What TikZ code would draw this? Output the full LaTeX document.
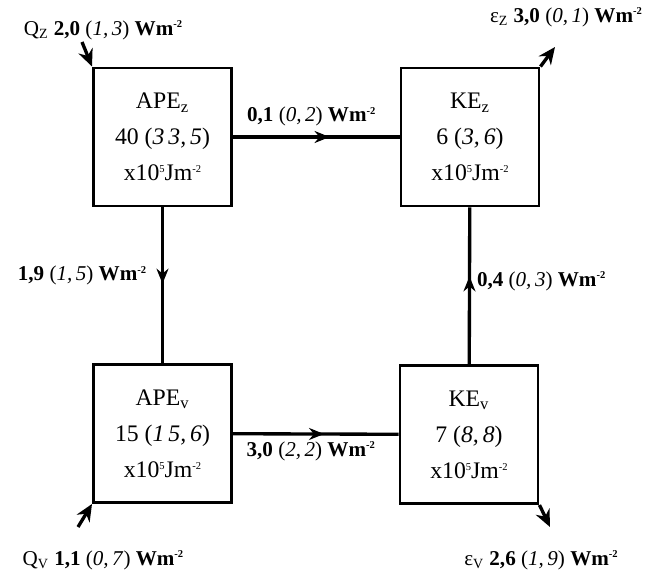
\documentclass[tikz,border=0pt]{standalone}
\usepackage{fontspec}
\setmainfont{Liberation Serif}
\usetikzlibrary{arrows.meta,decorations.markings}

\newcommand{\hisup}[1]{\raisebox{0.75ex}{\fontsize{6}{6}\selectfont #1}}
\newcommand{\wm}{Wm\hisup{-2}}
\newcommand{\flux}[2]{\textbf{#1} (\textit{#2}) \textbf{\wm}}
\newcommand{\jm}{x10\hisup{5}Jm\hisup{-2}}

\begin{document}
\begin{tikzpicture}[
box/.style={draw, line width=1.7pt, minimum size=2.76cm, inner sep=0pt, align=center, font=\fontsize{13.5}{20.5}\selectfont},
flow/.style={line width=1.9pt, postaction={decorate, decoration={markings, mark=at position #1 with {\arrow{Stealth[length=0.3cm,width=0.24cm]}}}}},
corner/.style={-{Stealth[length=0.34cm,width=0.3cm]}, line width=1.9pt},
lbl/.style={font=\fontsize{12}{14}\selectfont}
]
\useasboundingbox (0,0) rectangle (13.04,11.42);

\draw

(3.25, 8.68) node[box](apez){APE\textsubscript{z}\\40 (\textit{3\,3,\,5})\\\jm}
(9.40, 8.68) node[box](kez){KE\textsubscript{z}\\6 (\textit{3,\,6})\\\jm}
(3.25, 2.75) node[box](apev){APE\textsubscript{v}\\15 (\textit{1\,5,\,6})\\\jm}
(9.38, 2.73) node[box](kev){KE\textsubscript{v}\\7 (\textit{8,\,8})\\\jm};

% conversions between the reservoirs
\draw[flow=0.58] (apez) -- node[lbl, above, pos=0.47, yshift=2pt] {\flux{0,1}{0,\,2}} (kez);
\draw[flow=0.49] (apez) -- node[lbl, left, pos=0.44, xshift=-5pt] {\flux{1,9}{1,\,5}} (apev);
\draw[flow=0.55] (apev) -- node[lbl, below, pos=0.47] {\flux{3,0}{2,\,2}} (kev);
\draw[flow=0.56] (kev) -- node[lbl, right, pos=0.53] {\flux{0,4}{0,\,3}} (kez);

% generation and dissipation
\coordinate (qz) at (1.64, 10.58);
\coordinate (ez) at (11.10, 10.48);
\coordinate (qv) at (1.56, 0.88);
\coordinate (ev) at (11.00, 0.88);

\node[lbl] (qzlbl) at (2.06, 10.82) {Q\textsubscript{Z} \flux{2,0}{1,\,3}};
\node[lbl] (ezlbl) at (11.32, 11.08) {ε\textsubscript{Z} \flux{3,0}{0,\,1}};
\node[lbl] (qvlbl) at (2.06, 0.22) {Q\textsubscript{V} \flux{1,1}{0,\,7}};
\node[lbl] (evlbl) at (10.82, 0.22) {ε\textsubscript{V} \flux{2,6}{1,\,9}};

\draw[corner] (qz) -- (apez.north west);
\draw[corner] (kez.north east) -- (ez);
\draw[corner] (qv) -- (apev.south west);
\draw[corner] (kev.south east) -- (ev);

\end{tikzpicture}
\end{document}
